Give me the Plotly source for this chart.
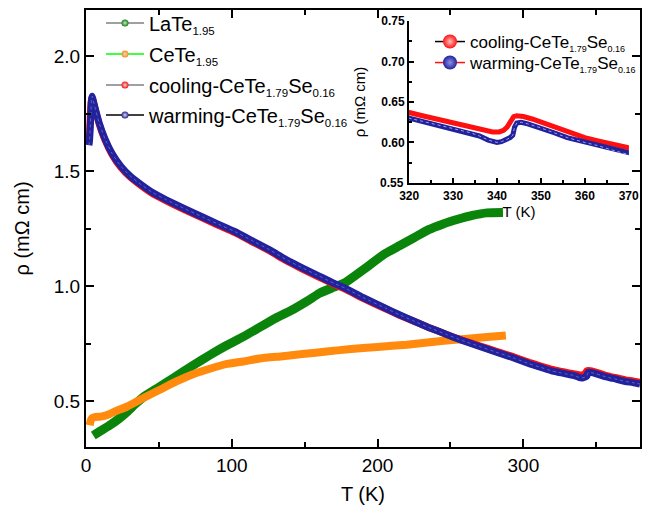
import plotly.graph_objects as go

# ---------------- data ----------------
late_T = [5, 10, 16, 22, 28, 34, 40, 50, 60, 73, 85, 96, 108, 119, 130, 142, 152,
          160, 170, 178, 190, 205, 215, 225, 235, 245, 255, 265, 275, 286]
late_rho = [0.35, 0.37, 0.393, 0.42, 0.452, 0.488, 0.52, 0.56, 0.60, 0.653, 0.70,
            0.74, 0.78, 0.82, 0.86, 0.898, 0.935, 0.968, 0.995, 1.016, 1.07, 1.14,
            1.175, 1.21, 1.245, 1.27, 1.29, 1.307, 1.318, 1.32]

cete_T = [2.5, 3, 4, 6, 10, 15, 20, 28, 40, 51, 62, 73, 85, 96, 108, 119, 135,
          150, 165, 180, 200, 220, 242, 260, 275, 288]
cete_rho = [0.395, 0.41, 0.425, 0.43, 0.432, 0.44, 0.455, 0.475, 0.515, 0.55,
            0.585, 0.615, 0.64, 0.66, 0.672, 0.685, 0.695, 0.705, 0.715, 0.725,
            0.735, 0.745, 0.76, 0.77, 0.778, 0.785]

cool_T = [2.0, 2.5, 3.0, 3.5, 4.0, 6, 9, 13, 18, 24, 30, 38, 46, 55, 68, 80, 91,
          102, 114, 126, 137, 148, 160, 170, 178, 190, 205, 215, 224, 235, 247,
          258, 270, 281, 292, 304, 312, 320, 323, 326, 329, 332, 334, 335, 337,
          339, 340.5, 341.5, 342.3, 342.8, 343.3, 343.8, 344.5, 346, 348, 350,
          353, 356, 360, 363, 366, 370, 375, 380]
cool_rho = [1.64, 1.67, 1.75, 1.80, 1.82, 1.775, 1.705, 1.635, 1.57, 1.515, 1.475,
            1.435, 1.40, 1.37, 1.33, 1.295, 1.263, 1.232, 1.192, 1.152, 1.111,
            1.075, 1.038, 1.007, 0.985, 0.946, 0.902, 0.873, 0.849, 0.82, 0.79,
            0.765, 0.740, 0.717, 0.695, 0.668, 0.652, 0.637, 0.633, 0.629, 0.625,
            0.621, 0.619, 0.618, 0.615, 0.613, 0.613, 0.615, 0.619, 0.624, 0.629,
            0.632, 0.633, 0.632, 0.629, 0.625, 0.619, 0.613, 0.606, 0.602, 0.598,
            0.592, 0.587, 0.581]

warm_T = [2.0, 2.3, 2.6, 3.0, 3.4, 3.8, 4.2, 6, 9, 13, 18, 24, 30, 38, 46, 55, 68,
          80, 91, 102, 114, 126, 137, 148, 160, 170, 178, 190, 205, 215, 224, 235,
          247, 258, 270, 281, 292, 304, 312, 320, 323, 326, 329, 332, 334, 336,
          338, 340, 341, 342, 343, 343.6, 344.0, 344.5, 345.5, 347, 350, 353, 356,
          360, 363, 366, 370, 375, 380]
warm_rho = [1.612, 1.625, 1.65, 1.70, 1.76, 1.81, 1.825, 1.78, 1.71, 1.64, 1.575,
            1.52, 1.48, 1.44, 1.405, 1.375, 1.335, 1.30, 1.268, 1.237, 1.197, 1.157,
            1.116, 1.08, 1.043, 1.012, 0.99, 0.95, 0.905, 0.875, 0.85, 0.82, 0.79,
            0.763, 0.737, 0.713, 0.69, 0.662, 0.646, 0.630, 0.626, 0.622, 0.618,
            0.614, 0.612, 0.608, 0.603, 0.600, 0.601, 0.603, 0.606, 0.609, 0.619,
            0.624, 0.625, 0.623, 0.618, 0.612, 0.606, 0.600, 0.596, 0.591, 0.585,
            0.580, 0.574]


def sub(t, px):
    return "<sub><span style='font-size:%spx'>%s</span></sub>" % (px, t)


main_names = ["LaTe" + sub("1.95", 11.5),
              "CeTe" + sub("1.95", 11.5),
              "cooling-CeTe" + sub("1.79", 11.5) + "Se" + sub("0.16", 11.5),
              "warming-CeTe" + sub("1.79", 11.5) + "Se" + sub("0.16", 11.5)]
inset_names = ["cooling-CeTe" + sub("1.79", 9) + "Se" + sub("0.16", 9),
               "warming-CeTe" + sub("1.79", 9) + "Se" + sub("0.16", 9)]

main_x_ticks = [0, 100, 200, 300]
main_y_ticks = [0.5, 1.0, 1.5, 2.0]
main_y_labels = ["0.5", "1.0", "1.5", "2.0"]
inset_x_ticks = [320, 330, 340, 350, 360, 370]
inset_y_ticks = [0.55, 0.60, 0.65, 0.70, 0.75]
inset_y_labels = ["0.55", "0.60", "0.65", "0.70", "0.75"]

GREEN = "#0b840b"
ORANGE = "#ff8a0d"
RED = "#ff1010"
NAVY = "#22229c"
FONT = "Arial, Liberation Sans, sans-serif"
W, H = 650, 512
ML, MR, MT, MB = 86, 10, 10, 65
PW, PH = W - ML - MR, H - MT - MB

fig = go.Figure()

# ---------------- main plot curves ----------------
fig.add_trace(go.Scatter(x=late_T, y=late_rho, mode="lines", showlegend=False,
                         line=dict(color=GREEN, width=9, shape="spline", smoothing=0.5)))
fig.add_trace(go.Scatter(x=cete_T, y=cete_rho, mode="lines", showlegend=False,
                         line=dict(color=ORANGE, width=8, shape="spline", smoothing=0.5)))
fig.add_trace(go.Scatter(x=cool_T, y=cool_rho, mode="lines", showlegend=False,
                         line=dict(color=RED, width=7, shape="spline", smoothing=0.4)))
fig.add_trace(go.Scatter(x=warm_T, y=warm_rho, mode="lines", showlegend=False,
                         line=dict(color=NAVY, width=7, shape="spline", smoothing=0.4)))
fig.add_trace(go.Scatter(x=warm_T, y=warm_rho, mode="lines", showlegend=False,
                         line=dict(color="rgba(150,150,230,0.55)", width=1, dash="dot",
                                   shape="spline", smoothing=0.4)))

# ---------------- inset curves ----------------
fig.add_trace(go.Scatter(x=cool_T, y=cool_rho, mode="lines", showlegend=False,
                         xaxis="x2", yaxis="y2",
                         line=dict(color=RED, width=5)))
fig.add_trace(go.Scatter(x=warm_T, y=warm_rho, mode="lines", showlegend=False,
                         xaxis="x2", yaxis="y2",
                         line=dict(color=NAVY, width=5)))
fig.add_trace(go.Scatter(x=warm_T, y=warm_rho, mode="lines", showlegend=False,
                         xaxis="x2", yaxis="y2",
                         line=dict(color="rgba(190,190,255,0.8)", width=1, dash="dot")))

# ---------------- legend entries (one small legend per row) ----------------
legend_layout = {}
main_rows_px = [23, 54, 85, 115]
leg_line = ["#808080", "#00ff00", "#808080", "#000000"]
leg_mark = [GREEN, ORANGE, RED, NAVY]
for i, (n, lc, mc, py) in enumerate(zip(main_names, leg_line, leg_mark, main_rows_px)):
    key = "legend" if i == 0 else "legend%d" % (i + 1)
    fig.add_trace(go.Scatter(x=[None], y=[None], mode="lines+markers", name=n,
                             line=dict(color=lc, width=1.5),
                             marker=dict(color=mc, size=7,
                                         gradient=dict(type="radial", color="#dddddd")),
                             legend=key))
    legend_layout[key] = dict(x=(101 - ML) / PW, y=(H - MB - py) / PH,
                              xanchor="left", yanchor="middle",
                              bgcolor="rgba(0,0,0,0)", font=dict(size=20),
                              itemwidth=38, borderwidth=0)

inset_rows_px = [42, 63]
for j, (n, lc, mc, gc, py) in enumerate(zip(inset_names, ["#000000", RED], [RED, NAVY],
                                            ["#ffc0c0", "#9090e0"], inset_rows_px)):
    key = "legend%d" % (5 + j)
    fig.add_trace(go.Scatter(x=[None], y=[None], mode="lines+markers", name=n,
                             xaxis="x2", yaxis="y2",
                             line=dict(color=lc, width=1.5),
                             marker=dict(color=mc, size=14,
                                         gradient=dict(type="radial", color=gc)),
                             legend=key))
    legend_layout[key] = dict(x=(430 - ML) / PW, y=(H - MB - py) / PH,
                              xanchor="left", yanchor="middle",
                              bgcolor="rgba(0,0,0,0)", font=dict(size=17),
                              itemwidth=30, borderwidth=0)

axis_common = dict(showline=True, linecolor="black", linewidth=2, ticks="inside",
                   tickcolor="black", showgrid=False, zeroline=False, automargin=False)

fig.update_layout(
    width=W, height=H,
    margin=dict(l=ML, r=MR, t=MT, b=MB, autoexpand=False),
    paper_bgcolor="white", plot_bgcolor="white",
    font=dict(family=FONT, color="black"),
    xaxis=dict(**axis_common, range=[0, 380], mirror="ticks",
               tickvals=main_x_ticks, ticklen=8, tickwidth=2,
               minor=dict(dtick=50, tick0=0, ticks="inside", ticklen=5, tickwidth=2,
                          tickcolor="black", showgrid=False),
               tickfont=dict(size=19),
               title=dict(text="T (K)", font=dict(size=20), standoff=12)),
    yaxis=dict(**axis_common, range=[0.3, 2.2], mirror="ticks",
               tickvals=main_y_ticks, ticktext=main_y_labels, ticklen=8, tickwidth=2,
               minor=dict(dtick=0.25, tick0=0.25, ticks="inside", ticklen=5, tickwidth=2,
                          tickcolor="black", showgrid=False),
               tickfont=dict(size=19),
               title=dict(text="ρ (mΩ cm)", font=dict(size=20), standoff=19)),
    xaxis2=dict(**axis_common, domain=[0.583, 0.980], anchor="y2", range=[319.95, 370.05],
                tickvals=inset_x_ticks, ticklen=5, tickwidth=1.5,
                minor=dict(dtick=5, tick0=320, ticks="inside", ticklen=3, tickwidth=1.5,
                           tickcolor="black", showgrid=False),
                tickfont=dict(size=12, weight="bold"),
                title=dict(text="T (K)", font=dict(size=15), standoff=2)),
    yaxis2=dict(**axis_common, domain=[0.6034, 0.9755], anchor="x2", range=[0.5495, 0.7505],
                tickvals=inset_y_ticks[1:], ticktext=inset_y_labels[1:], ticklen=5,
                tickwidth=1.5,
                minor=dict(dtick=0.025, tick0=0.55, ticks="inside", ticklen=3, tickwidth=1.5,
                           tickcolor="black", showgrid=False),
                tickfont=dict(size=12, weight="bold"),
                title=dict(text="ρ (mΩ cm)", font=dict(size=15), standoff=12)),
    **legend_layout,
)

# lowest inset y label (Plotly drops it at the axis corner), placed via the y2 scale
fig.add_annotation(xref="x2 domain", yref="y2", x=0, y=inset_y_ticks[0],
                   text="<b>%s</b>" % inset_y_labels[0], showarrow=False,
                   xanchor="right", yanchor="middle", xshift=-3,
                   font=dict(size=12, family=FONT, color="black"))

fig.write_html("out.html", post_script="document.body.style.margin='0';",
               config={"displayModeBar": False})
